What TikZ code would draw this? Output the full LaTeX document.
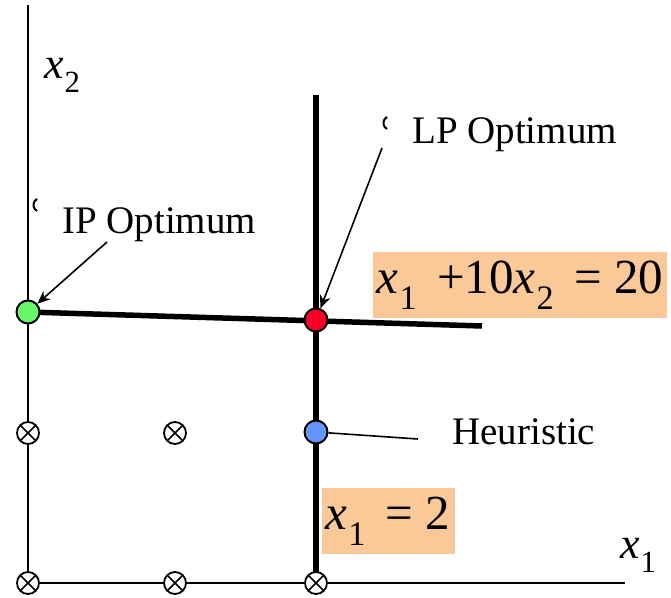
\documentclass[tikz,border=0pt]{standalone}
\usepackage{fontspec}
\setmainfont{Liberation Serif}
\usetikzlibrary{arrows.meta}

\definecolor{boxpeach}{RGB}{251,201,151}
\definecolor{ipgreen}{RGB}{102,250,102}
\definecolor{lpred}{RGB}{250,0,40}
\definecolor{heurblue}{RGB}{100,150,250}

% variable with a lowered index, in text mode
\newcommand{\xsub}[1]{\textit{x}\kern0.02em\raisebox{-0.32em}{\scalebox{0.7}{#1}}}

\begin{document}
\begin{tikzpicture}[
    x=1pt, y=-1pt,
    axisline/.style={line width=2.6pt, black},
    boundline/.style={line width=5.5pt, black},
    callout/.style={line width=1.6pt, -{Stealth[length=13pt, width=11pt]}},
    pointer/.style={line width=1.6pt},
    lattice/.style={circle, draw, line width=1.8pt, fill=white, minimum size=22pt, inner sep=0pt,
        path picture={\draw[line width=1.6pt]
            (path picture bounding box.north west) -- (path picture bounding box.south east)
            (path picture bounding box.south west) -- (path picture bounding box.north east);}},
    solndot/.style={circle, draw, line width=2pt, minimum size=23pt, inner sep=0pt},
    plaintext/.style={font=\fontsize{39}{42}\selectfont, inner sep=0pt},
    eqbox/.style={fill=boxpeach, font=\fontsize{49}{52}\selectfont, inner xsep=4pt, minimum height=66pt},
]
\useasboundingbox (0,0) rectangle (671,597);

% =============================================================================
% Axes
% =============================================================================
\coordinate (origin) at (28,583);
\draw[axisline] (28,5) -- (origin) -- (625,583);
\node[font=\fontsize{44}{46}\selectfont, inner sep=0pt] (x2lab) at (62,75) {\xsub{2}};
\node[font=\fontsize{44}{46}\selectfont, inner sep=0pt] (x1lab) at (638,555) {\xsub{1}};

% =============================================================================
% Constraints
% =============================================================================
\draw[boundline] (316,95) -- (316,583);
\draw[boundline] (28,312) -- (482,326);

\node[eqbox, minimum width=294pt] (eqcut) at (520,285) {\xsub{1}\ \,+10\xsub{2}\ \,=\ 20};
\node[eqbox, minimum width=133pt] (eqbranch) at (388,521) {\xsub{1}\ \,=\ 2};

% --- Integer lattice points ---
\foreach \px/\py [count=\i] in {28/433, 175/433, 28/583, 175/583, 316/583} {
    \node[lattice] (pt\i) at (\px,\py) {};
}

% =============================================================================
% Solutions
% =============================================================================
\node[solndot, fill=ipgreen] (ip) at (28,312) {};
\node[solndot, fill=lpred] (lp) at (316,320) {};
\node[solndot, fill=heurblue] (heur) at (316,432) {};

% --- Labels and pointers ---
\node[plaintext, anchor=west] (iplab) at (62,225) {IP Optimum};
\node[plaintext, anchor=west] (lplab) at (412,135) {LP Optimum};
\node[plaintext, anchor=west] (heurlab) at (452,432) {Heuristic};

\draw[line width=2pt] (37,211) arc[start angle=120, end angle=240, radius=7];
\draw[line width=2pt] (387,129) arc[start angle=120, end angle=240, radius=7];

\coordinate (iptail) at (107,242);
\coordinate (lptail) at (382,148);
\coordinate (heurtail) at (418,439);

\draw[callout] (iptail) -- (ip);
\draw[callout] (lptail) -- (lp);
\draw[pointer] (heur) -- (heurtail);

\end{tikzpicture}
\end{document}
